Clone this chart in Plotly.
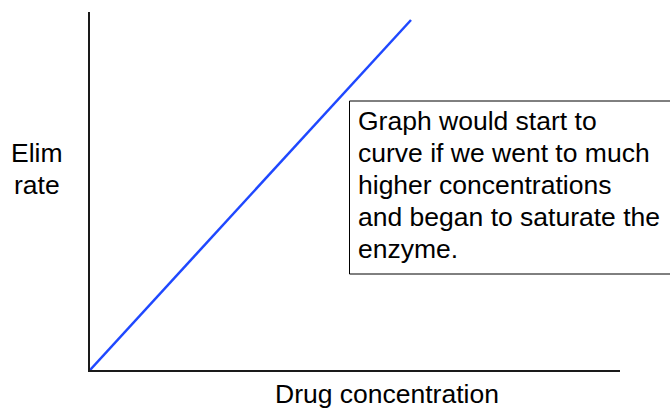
import plotly.graph_objects as go

# Elimination rate rises linearly with drug concentration (first-order kinetics)
drug_concentration = [0, 1]
elim_rate = [0, 1]

axis_title_x = "Drug concentration"
axis_title_y_lines = ["Elim", "rate"]
note_lines = [
    "Graph would start to",
    "curve if we went to much",
    "higher concentrations",
    "and began to saturate the",
    "enzyme.",
]

W, H = 670, 410
LINE_STEP = 32  # px between text baselines


def px(x):
    return x / W


def py(y):
    return 1 - y / H


FONT = dict(family="Liberation Sans, Arial, sans-serif", size=26.5, color="#000000")


def text_line(text, x, y_mid, anchor):
    return dict(
        text=text,
        xref="paper",
        yref="paper",
        x=px(x),
        y=py(y_mid),
        xanchor=anchor,
        yanchor="middle",
        showarrow=False,
        font=FONT,
    )


fig = go.Figure()
fig.add_trace(
    go.Scatter(
        x=drug_concentration,
        y=elim_rate,
        mode="lines",
        line=dict(color="#1f48ff", width=2.5),
        hoverinfo="skip",
        showlegend=False,
    )
)

axis_common = dict(
    showgrid=False,
    zeroline=False,
    showticklabels=False,
    ticks="",
    showline=True,
    linecolor="#1a1a1a",
    linewidth=2,
    fixedrange=True,
)

annotations = []
for i, line in enumerate(note_lines):
    annotations.append(text_line(line, 356, 121 + i * LINE_STEP, "left"))
for i, line in enumerate(axis_title_y_lines):
    annotations.append(text_line(line, 37, 153 + i * LINE_STEP, "center"))
annotations.append(text_line(axis_title_x, 387, 394, "center"))

fig.update_layout(
    width=W,
    height=H,
    margin=dict(l=0, r=0, t=0, b=0),
    paper_bgcolor="white",
    plot_bgcolor="white",
    xaxis=dict(domain=[px(90), px(620)], range=[0, 530 / 321], **axis_common),
    yaxis=dict(domain=[py(370), py(12)], range=[0, 358 / 350], **axis_common),
    shapes=[
        dict(
            type="rect",
            xref="paper",
            yref="paper",
            x0=px(349.5),
            x1=px(720),
            y0=py(274),
            y1=py(101),
            line=dict(color="#000000", width=1),
            fillcolor="rgba(0,0,0,0)",
        )
    ],
    annotations=annotations,
)

fig.write_html("out.html", config=dict(displayModeBar=False))
